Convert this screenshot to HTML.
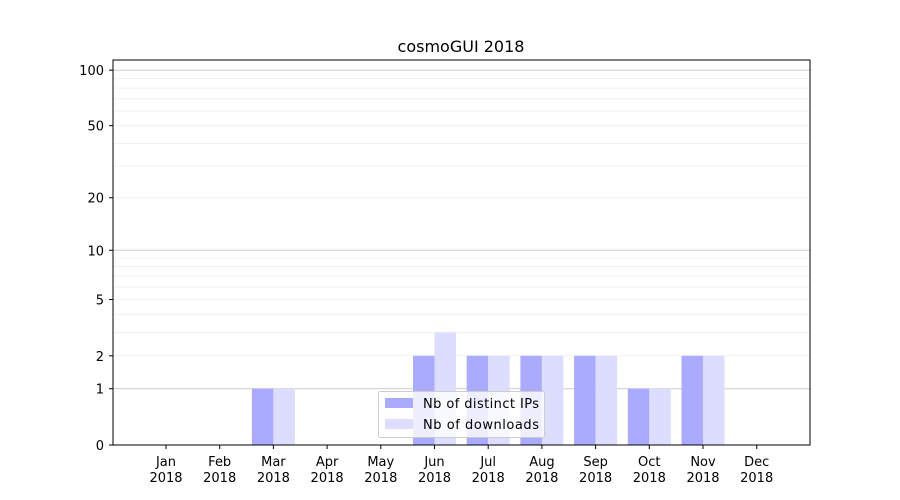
<!DOCTYPE html>
<html><head><meta charset="utf-8"><style>body{margin:0;background:#fff}svg{display:block}text{font-family:"DejaVu Sans","Liberation Sans",sans-serif;font-size:13px;fill:#000}</style></head><body>
<svg width="900" height="500" xmlns="http://www.w3.org/2000/svg">
<rect width="900" height="500" fill="#fff"/>
<g id="grid"></g>
<g id="bars"></g>
<rect x="113" y="60" width="697" height="385" fill="none" stroke="#000" stroke-width="1"/>
<g id="ticks"></g>
<text x="461" y="52" text-anchor="middle" style="font-size:16px">cosmoGUI 2018</text>
<g>
<rect x="378.5" y="391.5" width="166" height="46" rx="2" fill="#fff" fill-opacity="0.8" stroke="#ccc"/>
<rect x="385" y="398" width="28" height="10" fill="#aaaaff"/>
<text x="423" y="408" textLength="116">Nb of distinct IPs</text>
<rect x="385" y="419" width="28" height="10" fill="#ddddff"/>
<text x="423" y="429" textLength="116">Nb of downloads</text>
</g>
</svg>
<script>
var ns="http://www.w3.org/2000/svg";
function Y(v){return 445-187*Math.log10(1+v);}
function el(p,t,a,txt){var e=document.createElementNS(ns,t);for(var k in a)e.setAttribute(k,a[k]);if(txt!==undefined)e.textContent=txt;document.getElementById(p).appendChild(e);return e;}
var vals=[2,3,4,5,6,7,8,9,20,30,40,50,60,70,80,90];
vals.forEach(function(v){var y=Y(v);el("grid","line",{x1:113,x2:810,y1:y,y2:y,stroke:"#eee","stroke-width":0.8});});
[1,10,100].forEach(function(v){var y=Y(v);el("grid","line",{x1:113,x2:810,y1:y,y2:y,stroke:"#ccc","stroke-width":1});});
var ip=[0,0,1,0,0,2,2,2,2,1,2,0],dl=[0,0,1,0,0,3,2,2,2,1,2,0];
var m=["Jan","Feb","Mar","Apr","May","Jun","Jul","Aug","Sep","Oct","Nov","Dec"];
for(var i=0;i<12;i++){var c=166+i*53.7;
if(ip[i])el("bars","rect",{x:c-21.5,y:Y(ip[i]),width:21.5,height:445-Y(ip[i]),fill:"#aaaaff"});
if(dl[i])el("bars","rect",{x:c,y:Y(dl[i]),width:21.5,height:445-Y(dl[i]),fill:"#ddddff"});
el("ticks","line",{x1:c,x2:c,y1:445,y2:449,stroke:"#000"});
el("ticks","text",{x:c,y:466,"text-anchor":"middle"},m[i]);
el("ticks","text",{x:c,y:482,"text-anchor":"middle"},"2018");}
[0,1,2,5,10,20,50,100].forEach(function(v){var y=Y(v);el("ticks","line",{x1:109,x2:113,y1:y,y2:y,stroke:"#000"});el("ticks","text",{x:104,y:y+5,"text-anchor":"end"},v);});
</script>
</body></html>
